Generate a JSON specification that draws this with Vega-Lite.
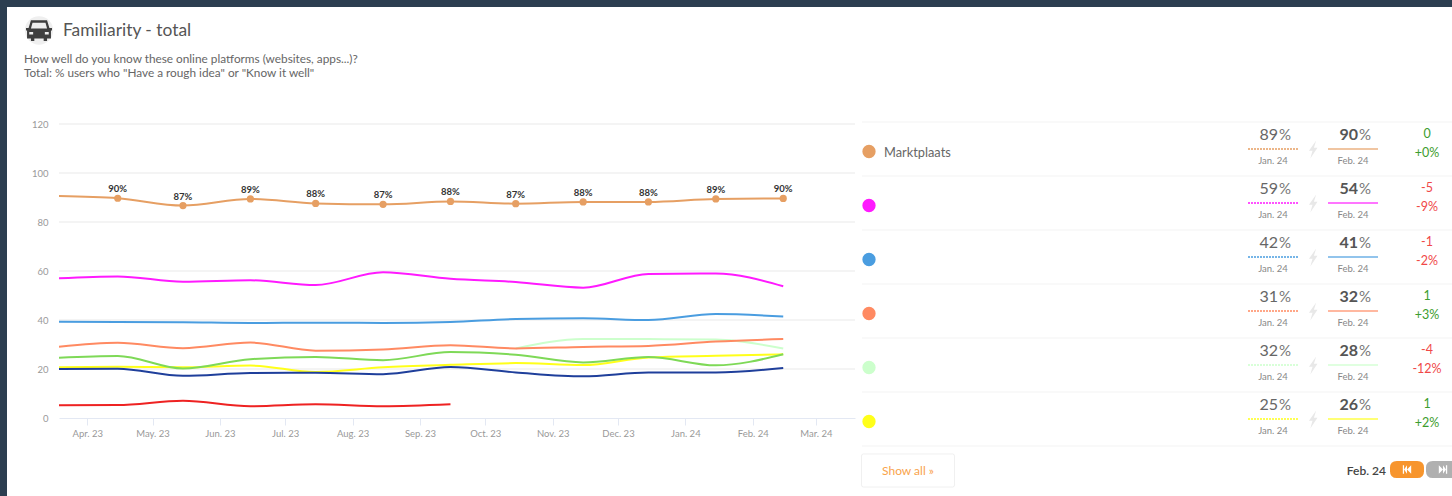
{"$schema":"https://vega.github.io/schema/vega-lite/v6.json","width":1445,"height":489,"autosize":{"type":"none"},"padding":{"left":7,"top":7,"right":0,"bottom":0},"background":"#2c3e50","view":{"fill":"#ffffff","stroke":null},"config":{"font":"Lato","text":{"font":"Lato"}},
"datasets":{
"grid":[{"tick":20,"from":"2023-03-19","to":"2024-03-19"},{"tick":40,"from":"2023-03-19","to":"2024-03-19"},{"tick":60,"from":"2023-03-19","to":"2024-03-19"},{"tick":80,"from":"2023-03-19","to":"2024-03-19"},{"tick":100,"from":"2023-03-19","to":"2024-03-19"},{"tick":120,"from":"2023-03-19","to":"2024-03-19"}],
"series":[
{"platform":"Marktplaats","date":"2023-03-19","value":90.6},{"platform":"Marktplaats","date":"2023-04-15","value":89.7,"label":"90%"},{"platform":"Marktplaats","date":"2023-05-15","value":86.7,"label":"87%"},{"platform":"Marktplaats","date":"2023-06-15","value":89.4,"label":"89%"},{"platform":"Marktplaats","date":"2023-07-15","value":87.6,"label":"88%"},{"platform":"Marktplaats","date":"2023-08-15","value":87.2,"label":"87%"},{"platform":"Marktplaats","date":"2023-09-15","value":88.4,"label":"88%"},{"platform":"Marktplaats","date":"2023-10-15","value":87.5,"label":"87%"},{"platform":"Marktplaats","date":"2023-11-15","value":88.2,"label":"88%"},{"platform":"Marktplaats","date":"2023-12-15","value":88.2,"label":"88%"},{"platform":"Marktplaats","date":"2024-01-15","value":89.4,"label":"89%"},{"platform":"Marktplaats","date":"2024-02-15","value":89.6,"label":"90%"},
{"platform":"P2","date":"2023-03-19","value":57},{"platform":"P2","date":"2023-04-15","value":57.8},{"platform":"P2","date":"2023-05-15","value":55.6},{"platform":"P2","date":"2023-06-15","value":56.2},{"platform":"P2","date":"2023-07-15","value":54.3},{"platform":"P2","date":"2023-08-15","value":59.5},{"platform":"P2","date":"2023-09-15","value":56.8},{"platform":"P2","date":"2023-10-15","value":55.5},{"platform":"P2","date":"2023-11-15","value":53.2},{"platform":"P2","date":"2023-12-15","value":58.8},{"platform":"P2","date":"2024-01-15","value":59},{"platform":"P2","date":"2024-02-15","value":53.8},
{"platform":"P3","date":"2023-03-19","value":39.3},{"platform":"P3","date":"2023-04-15","value":39.2},{"platform":"P3","date":"2023-05-15","value":39.1},{"platform":"P3","date":"2023-06-15","value":38.8},{"platform":"P3","date":"2023-07-15","value":38.9},{"platform":"P3","date":"2023-08-15","value":38.8},{"platform":"P3","date":"2023-09-15","value":39.2},{"platform":"P3","date":"2023-10-15","value":40.4},{"platform":"P3","date":"2023-11-15","value":40.7},{"platform":"P3","date":"2023-12-15","value":40},{"platform":"P3","date":"2024-01-15","value":42.4},{"platform":"P3","date":"2024-02-15","value":41.4},
{"platform":"P5","date":"2023-10-15","value":28.4},{"platform":"P5","date":"2023-11-15","value":32.2},{"platform":"P5","date":"2023-12-15","value":32.2},{"platform":"P5","date":"2024-01-15","value":32},{"platform":"P5","date":"2024-02-15","value":28.4},
{"platform":"P4","date":"2023-03-19","value":29.1},{"platform":"P4","date":"2023-04-15","value":30.7},{"platform":"P4","date":"2023-05-15","value":28.5},{"platform":"P4","date":"2023-06-15","value":30.8},{"platform":"P4","date":"2023-07-15","value":27.5},{"platform":"P4","date":"2023-08-15","value":28},{"platform":"P4","date":"2023-09-15","value":29.7},{"platform":"P4","date":"2023-10-15","value":28.4},{"platform":"P4","date":"2023-11-15","value":29},{"platform":"P4","date":"2023-12-15","value":29.4},{"platform":"P4","date":"2024-01-15","value":31.2},{"platform":"P4","date":"2024-02-15","value":32.2},
{"platform":"P6","date":"2023-03-19","value":20.7},{"platform":"P6","date":"2023-04-15","value":20.9},{"platform":"P6","date":"2023-05-15","value":20.7},{"platform":"P6","date":"2023-06-15","value":21.4},{"platform":"P6","date":"2023-07-15","value":18.8},{"platform":"P6","date":"2023-08-15","value":20.7},{"platform":"P6","date":"2023-09-15","value":21.7},{"platform":"P6","date":"2023-10-15","value":22.4},{"platform":"P6","date":"2023-11-15","value":21.6},{"platform":"P6","date":"2023-12-15","value":24.7},{"platform":"P6","date":"2024-01-15","value":25.4},{"platform":"P6","date":"2024-02-15","value":26},
{"platform":"P8","date":"2023-03-19","value":20},{"platform":"P8","date":"2023-04-15","value":20.1},{"platform":"P8","date":"2023-05-15","value":17.2},{"platform":"P8","date":"2023-06-15","value":18.4},{"platform":"P8","date":"2023-07-15","value":18.5},{"platform":"P8","date":"2023-08-15","value":17.9},{"platform":"P8","date":"2023-09-15","value":20.8},{"platform":"P8","date":"2023-10-15","value":18.6},{"platform":"P8","date":"2023-11-15","value":17},{"platform":"P8","date":"2023-12-15","value":18.6},{"platform":"P8","date":"2024-01-15","value":18.6},{"platform":"P8","date":"2024-02-15","value":20.4},
{"platform":"P7","date":"2023-03-19","value":24.6},{"platform":"P7","date":"2023-04-15","value":25.3},{"platform":"P7","date":"2023-05-15","value":20.2},{"platform":"P7","date":"2023-06-15","value":24},{"platform":"P7","date":"2023-07-15","value":24.9},{"platform":"P7","date":"2023-08-15","value":23.6},{"platform":"P7","date":"2023-09-15","value":26.9},{"platform":"P7","date":"2023-10-15","value":25.8},{"platform":"P7","date":"2023-11-15","value":22.7},{"platform":"P7","date":"2023-12-15","value":24.9},{"platform":"P7","date":"2024-01-15","value":21.5},{"platform":"P7","date":"2024-02-15","value":26},
{"platform":"P9","date":"2023-03-19","value":5.2},{"platform":"P9","date":"2023-04-15","value":5.3},{"platform":"P9","date":"2023-05-15","value":7},{"platform":"P9","date":"2023-06-15","value":4.8},{"platform":"P9","date":"2023-07-15","value":5.6},{"platform":"P9","date":"2023-08-15","value":4.8},{"platform":"P9","date":"2023-09-15","value":5.6}
],
"table":[
{"platform":"Marktplaats","slot":"dot","kind":"sep","end":"delta"},{"platform":"P2","slot":"dot","kind":"sep","end":"delta"},{"platform":"P3","slot":"dot","kind":"sep","end":"delta"},{"platform":"P4","slot":"dot","kind":"sep","end":"delta"},{"platform":"P5","slot":"dot","kind":"sep","end":"delta"},{"platform":"P6","slot":"dot","kind":"sep","end":"delta"},{"platform":"footer","slot":"dot","kind":"sep","end":"delta"},
{"platform":"Marktplaats","slot":"dot","kind":"dot","name":"Marktplaats"},{"platform":"P2","slot":"dot","kind":"dot"},{"platform":"P3","slot":"dot","kind":"dot"},{"platform":"P4","slot":"dot","kind":"dot"},{"platform":"P5","slot":"dot","kind":"dot"},{"platform":"P6","slot":"dot","kind":"dot"},
{"platform":"Marktplaats","slot":"jan","kind":"prev","num":"89","month":"Jan. 24"},{"platform":"P2","slot":"jan","kind":"prev","num":"59","month":"Jan. 24"},{"platform":"P3","slot":"jan","kind":"prev","num":"42","month":"Jan. 24"},{"platform":"P4","slot":"jan","kind":"prev","num":"31","month":"Jan. 24"},{"platform":"P5","slot":"jan","kind":"prev","num":"32","month":"Jan. 24"},{"platform":"P6","slot":"jan","kind":"prev","num":"25","month":"Jan. 24"},
{"platform":"Marktplaats","slot":"feb","kind":"curr","num":"90","month":"Feb. 24"},{"platform":"P2","slot":"feb","kind":"curr","num":"54","month":"Feb. 24"},{"platform":"P3","slot":"feb","kind":"curr","num":"41","month":"Feb. 24"},{"platform":"P4","slot":"feb","kind":"curr","num":"32","month":"Feb. 24"},{"platform":"P5","slot":"feb","kind":"curr","num":"28","month":"Feb. 24"},{"platform":"P6","slot":"feb","kind":"curr","num":"26","month":"Feb. 24"},
{"platform":"Marktplaats","slot":"bolt","kind":"bolt"},{"platform":"P2","slot":"bolt","kind":"bolt"},{"platform":"P3","slot":"bolt","kind":"bolt"},{"platform":"P4","slot":"bolt","kind":"bolt"},{"platform":"P5","slot":"bolt","kind":"bolt"},{"platform":"P6","slot":"bolt","kind":"bolt"},
{"platform":"Marktplaats","slot":"delta","kind":"delta","change":0,"abs":"0","pct":"+0%"},{"platform":"P2","slot":"delta","kind":"delta","change":-5,"abs":"-5","pct":"-9%"},{"platform":"P3","slot":"delta","kind":"delta","change":-1,"abs":"-1","pct":"-2%"},{"platform":"P4","slot":"delta","kind":"delta","change":1,"abs":"1","pct":"+3%"},{"platform":"P5","slot":"delta","kind":"delta","change":-4,"abs":"-4","pct":"-12%"},{"platform":"P6","slot":"delta","kind":"delta","change":1,"abs":"1","pct":"+2%"},
{"platform":"footer","slot":"s1","kind":"button","name":"Show all »"},{"platform":"footer","slot":"s13","kind":"page","name":"Feb. 24"},{"platform":"footer","slot":"s13","kind":"back"},{"platform":"footer","slot":"delta","kind":"next"}
],
"header":[
{"line":"title","part":"icon","kind":"icon"},
{"line":"title","part":"title","kind":"title","text":"Familiarity - total"},
{"line":"question","part":"sub","kind":"sub","text":"How well do you know these online platforms (websites, apps...)?"},
{"line":"total","part":"sub","kind":"sub","text":"Total: % users who \"Have a rough idea\" or \"Know it well\""}
]},
"layer":[
{"layer":[
{"data":{"name":"grid"},"mark":{"type":"rule","color":"#f1f1f1","strokeWidth":1.5},"encoding":{
"x":{"field":"from","type":"temporal","scale":{"type":"utc","domain":["2023-03-19","2024-03-19"],"range":[52,848]},"axis":{"orient":"bottom","offset":-78,"labelExpr":"utcFormat(datum.value,'%b. %y')","tickCount":{"interval":"month","step":1},"title":null,"grid":false,"domainColor":"#e3e8f3","tickColor":"#e3e8f3","tickSize":7,"labelPadding":3,"labelFontSize":9.5,"labelColor":"#999999","labelFont":"Lato","labelFlush":false,"labelOverlap":false}},
"x2":{"field":"to"},
"y":{"field":"tick","type":"quantitative","scale":{"domain":[0,120],"range":[411,117]},"axis":{"orient":"left","offset":-44,"values":[0,20,40,60,80,100,120],"title":null,"grid":false,"domain":false,"ticks":false,"labelPadding":3,"labelFontSize":9.5,"labelColor":"#999999","labelFont":"Lato"}}}},
{"data":{"name":"series"},"mark":{"type":"line","interpolate":"monotone","strokeWidth":2},"encoding":{
"x":{"field":"date","type":"temporal","scale":{"type":"utc","domain":["2023-03-19","2024-03-19"],"range":[52,848]}},
"y":{"field":"value","type":"quantitative","scale":{"domain":[0,120],"range":[411,117]}},
"detail":{"field":"platform"},
"color":{"field":"platform","type":"nominal","legend":null,"scale":{"domain":["Marktplaats","P2","P3","P4","P5","P6","P7","P8","P9"],"range":["#e69f63","#ff1aff","#4a9de0","#ff8a62","#ccffcc","#ffff1a","#7ed957","#1f3f9b","#ee2222"]}}}},
{"data":{"name":"series"},"transform":[{"filter":"datum.label"}],"mark":{"type":"point","filled":true,"size":52,"opacity":1},"encoding":{
"x":{"field":"date","type":"temporal","scale":{"type":"utc","domain":["2023-03-19","2024-03-19"],"range":[52,848]}},
"y":{"field":"value","type":"quantitative","scale":{"domain":[0,120],"range":[411,117]}},
"color":{"field":"platform","type":"nominal","legend":null,"scale":{"domain":["Marktplaats","P2","P3","P4","P5","P6","P7","P8","P9"],"range":["#e69f63","#ff1aff","#4a9de0","#ff8a62","#ccffcc","#ffff1a","#7ed957","#1f3f9b","#ee2222"]}}}},
{"data":{"name":"series"},"transform":[{"filter":"datum.label"}],"mark":{"type":"text","dy":-9,"fontSize":9.5,"fontWeight":700,"color":"#333333"},"encoding":{
"x":{"field":"date","type":"temporal","scale":{"type":"utc","domain":["2023-03-19","2024-03-19"],"range":[52,848]}},
"y":{"field":"value","type":"quantitative","scale":{"domain":[0,120],"range":[411,117]}},
"text":{"field":"label"}}}
]},
{"data":{"name":"table"},"encoding":{
"x":{"field":"slot","type":"nominal","axis":null,"scale":{"type":"point","padding":0,"domain":["dot","s1","s2","s3","s4","s5","s6","s7","s8","s9","jan","bolt","feb","s13","delta"],"range":[866,1426]}},
"y":{"field":"platform","type":"nominal","axis":null,"scale":{"type":"band","padding":0,"domain":["Marktplaats","P2","P3","P4","P5","P6","footer"],"range":[116.5,494.5]}}},
"layer":[
{"transform":[{"filter":"datum.kind==='sep'"}],"mark":{"type":"rule","color":"#f3f3f3","strokeWidth":1,"yOffset":-28.5,"xOffset":-11,"x2Offset":19},"encoding":{"x2":{"field":"end"}}},
{"transform":[{"filter":"datum.kind==='dot'"}],"mark":{"type":"point","filled":true,"opacity":1,"size":177,"xOffset":-4,"yOffset":1},"encoding":{"color":{"field":"platform","type":"nominal","legend":null,"scale":{"domain":["Marktplaats","P2","P3","P4","P5","P6","P7","P8","P9"],"range":["#e69f63","#ff1aff","#4a9de0","#ff8a62","#ccffcc","#ffff1a","#7ed957","#1f3f9b","#ee2222"]}}}},
{"transform":[{"filter":"datum.name && datum.kind==='dot'"}],"mark":{"type":"text","align":"left","dx":11,"dy":2,"fontSize":12.8,"color":"#666666"},"encoding":{"text":{"field":"name"}}},
{"transform":[{"filter":"datum.kind==='prev'"}],"mark":{"type":"text","align":"right","dx":5,"dy":-16,"fontSize":16,"color":"#666666"},"encoding":{"text":{"field":"num"}}},
{"transform":[{"filter":"datum.kind==='curr'"}],"mark":{"type":"text","align":"right","dx":5,"dy":-16,"fontSize":16,"fontWeight":700,"color":"#555555"},"encoding":{"text":{"field":"num"}}},
{"transform":[{"filter":"datum.kind==='prev'||datum.kind==='curr'"}],"mark":{"type":"text","align":"left","dx":6,"dy":-16,"fontSize":15,"color":"#777777"},"encoding":{"text":{"value":"%"}}},
{"transform":[{"filter":"datum.kind==='prev'||datum.kind==='curr'"}],"mark":{"type":"text","dy":10,"fontSize":9.5,"color":"#888888"},"encoding":{"text":{"field":"month"}}},
{"transform":[{"filter":"datum.kind==='prev'"}],"mark":{"type":"rule","strokeWidth":1.5,"strokeDash":[2,1],"xOffset":-25,"x2Offset":25,"yOffset":-1.5},"encoding":{"x2":{"field":"slot"},"color":{"field":"platform","type":"nominal","legend":null,"scale":{"domain":["Marktplaats","P2","P3","P4","P5","P6","P7","P8","P9"],"range":["#e69f63","#ff1aff","#4a9de0","#ff8a62","#ccffcc","#ffff1a","#7ed957","#1f3f9b","#ee2222"]}}}},
{"transform":[{"filter":"datum.kind==='curr'"}],"mark":{"type":"rule","strokeWidth":1.5,"opacity":0.8,"xOffset":-25,"x2Offset":25,"yOffset":-1.5},"encoding":{"x2":{"field":"slot"},"color":{"field":"platform","type":"nominal","legend":null,"scale":{"domain":["Marktplaats","P2","P3","P4","P5","P6","P7","P8","P9"],"range":["#e69f63","#ff1aff","#4a9de0","#ff8a62","#ccffcc","#ffff1a","#7ed957","#1f3f9b","#ee2222"]}}}},
{"transform":[{"filter":"datum.kind==='bolt'"}],"mark":{"type":"point","filled":true,"opacity":1,"color":"#e8e8e8","size":324,"yOffset":-1,"shape":"M0.35 -1 L-0.45 0.15 H-0.05 L-0.3 1 L0.5 -0.2 H0.1 L0.35 -1 Z"}},
{"transform":[{"filter":"datum.kind==='delta'"}],"mark":{"type":"text","fontSize":12.5,"dy":-17,"xOffset":-6},"encoding":{"text":{"field":"abs"},"color":{"condition":{"test":"datum.change<0","value":"#f04848"},"value":"#3d9d2e"}}},
{"transform":[{"filter":"datum.kind==='delta'"}],"mark":{"type":"text","fontSize":12.5,"dy":2,"xOffset":-6},"encoding":{"text":{"field":"pct"},"color":{"condition":{"test":"datum.change<0","value":"#f04848"},"value":"#3d9d2e"}}},
{"transform":[{"filter":"datum.kind==='button'"}],"mark":{"type":"point","filled":true,"opacity":1,"fill":"#ffffff","stroke":"#f0f0f0","strokeWidth":1,"size":8649,"xOffset":-5,"yOffset":-4,"shape":"M-0.96 -0.355 H0.96 Q1 -0.355 1 -0.31 V0.31 Q1 0.355 0.96 0.355 H-0.96 Q-1 0.355 -1 0.31 V-0.31 Q-1 -0.355 -0.96 -0.355 Z"}},
{"transform":[{"filter":"datum.kind==='button'"}],"mark":{"type":"text","fontSize":12,"color":"#f9a34b","xOffset":-5,"dy":-4},"encoding":{"text":{"field":"name"}}},
{"transform":[{"filter":"datum.kind==='page'"}],"mark":{"type":"text","align":"right","fontSize":12,"fontWeight":600,"color":"#444444","dx":-7,"dy":-4},"encoding":{"text":{"field":"name"}}},
{"transform":[{"filter":"datum.kind==='back'"}],"mark":{"type":"point","filled":true,"opacity":1,"color":"#f7952d","size":1156,"xOffset":14,"yOffset":-5,"shape":"M-0.6 -0.5 H0.6 Q1 -0.5 1 -0.1 V0.1 Q1 0.5 0.6 0.5 H-0.6 Q-1 0.5 -1 0.1 V-0.1 Q-1 -0.5 -0.6 -0.5 Z"}},
{"transform":[{"filter":"datum.kind==='next'"}],"mark":{"type":"point","filled":true,"opacity":1,"color":"#b0b0b0","size":1156,"xOffset":10,"yOffset":-5,"shape":"M-0.6 -0.5 H0.6 Q1 -0.5 1 -0.1 V0.1 Q1 0.5 0.6 0.5 H-0.6 Q-1 0.5 -1 0.1 V-0.1 Q-1 -0.5 -0.6 -0.5 Z"}},
{"transform":[{"filter":"datum.kind==='back'"}],"mark":{"type":"point","filled":true,"opacity":1,"color":"#ffffff","size":70,"xOffset":14,"yOffset":-5,"shape":"M-1 -1 H-0.7 V1 H-1 Z M-0.7 0 L0 -1 V1 Z M0 0 L1 -1 V1 Z"}},
{"transform":[{"filter":"datum.kind==='next'"}],"mark":{"type":"point","filled":true,"opacity":1,"color":"#ffffff","size":70,"xOffset":10,"yOffset":-5,"shape":"M1 -1 H0.7 V1 H1 Z M0.7 0 L0 -1 V1 Z M0 0 L-1 -1 V1 Z"}}
]},
{"data":{"name":"header"},"encoding":{
"x":{"field":"part","type":"nominal","axis":null,"scale":{"type":"point","padding":0,"domain":["sub","icon","title"],"range":[17,56]}},
"y":{"field":"line","type":"nominal","axis":null,"scale":{"type":"point","padding":0,"domain":["title","gap","question","total"],"range":[23.5,66]}}},
"layer":[
{"transform":[{"filter":"datum.kind==='icon'"}],"mark":{"type":"point","filled":true,"opacity":1,"color":"#efefef","size":804,"xOffset":-4.5}},
{"transform":[{"filter":"datum.kind==='icon'"}],"mark":{"type":"point","filled":true,"opacity":1,"color":"#3f3f3f","size":676,"xOffset":-4.5,"shape":"M-0.62 -0.78 H0.62 L0.8 -0.2 H1 V0 H0.92 V0.62 H0.62 V0.8 H0.36 V0.62 H-0.36 V0.8 H-0.62 V0.62 H-0.92 V0 H-1 V-0.2 H-0.8 Z M-0.5 -0.6 L-0.62 -0.15 H0.62 L0.5 -0.6 Z M-0.75 0.12 V0.3 H-0.45 V0.12 Z M0.45 0.12 V0.3 H0.75 V0.12 Z"}},
{"transform":[{"filter":"datum.kind==='title'"}],"mark":{"type":"text","align":"left","fontSize":17.4,"color":"#555555"},"encoding":{"text":{"field":"text"}}},
{"transform":[{"filter":"datum.kind==='sub'"}],"mark":{"type":"text","align":"left","fontSize":11.8,"color":"#666666"},"encoding":{"text":{"field":"text"}}}
]}
],
"resolve":{"scale":{"x":"independent","y":"independent"},"axis":{"x":"independent","y":"independent"}}}
